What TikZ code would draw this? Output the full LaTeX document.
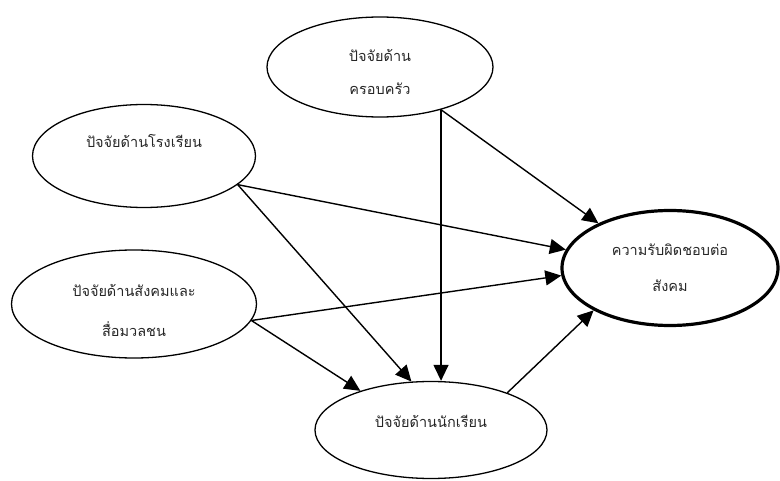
\documentclass[tikz,border=0pt]{standalone}
\usepackage{fontspec}
\newfontfamily\thaifont[Script=Thai]{Loma}
\usetikzlibrary{shapes.geometric, arrows.meta}

\begin{document}
\begin{tikzpicture}[x=1pt, y=-1pt,
    every node/.style={font=\thaifont\fontsize{14.5}{16}\selectfont, text=black!85},
    factor/.style={ellipse, draw, line width=1.3pt, inner sep=0pt, align=center},
    link/.style={-{Triangle[length=16pt,width=15pt]}, line width=1.4pt}]
    % Canvas
    \useasboundingbox (0,0) rectangle (780,481);

    % Factor ellipses
    \node[factor, minimum width=226pt, minimum height=100pt] (family) at (380,67) {\rule{0pt}{22pt}ปัจจัยด้าน\\[17pt]ครอบครัว};
    \node[factor, minimum width=223pt, minimum height=103pt, text height=10pt, text depth=26pt] (school) at (144,156) {ปัจจัยด้านโรงเรียน};
    \node[factor, minimum width=245pt, minimum height=108pt] (society) at (134,304) {\rule{0pt}{26pt}ปัจจัยด้านสังคมและ\\[24pt]สื่อมวลชน};
    \node[factor, minimum width=232pt, minimum height=97pt, text height=10pt, text depth=16pt] (student) at (431,430) {ปัจจัยด้านนักเรียน};
    \node[factor, line width=3.2pt, minimum width=216pt, minimum height=115pt] (resp) at (670,268) {ความรับผิดชอบต่อ\\[20pt]สังคม};

    % Paths between factors
    \draw[link] (family.-35) -- (resp.148);
    \draw[link] (family.-35) -- (family.-35 |- student.north);
    \draw[link] (school.-17) -- (resp.170);
    \draw[link] (school.-17) -- (student.112);
    \draw[link] (society.-8) -- (resp.184);
    \draw[link] (society.-8) -- (student.151);
    \draw[link] (student.26) -- (resp.209);
\end{tikzpicture}
\end{document}
